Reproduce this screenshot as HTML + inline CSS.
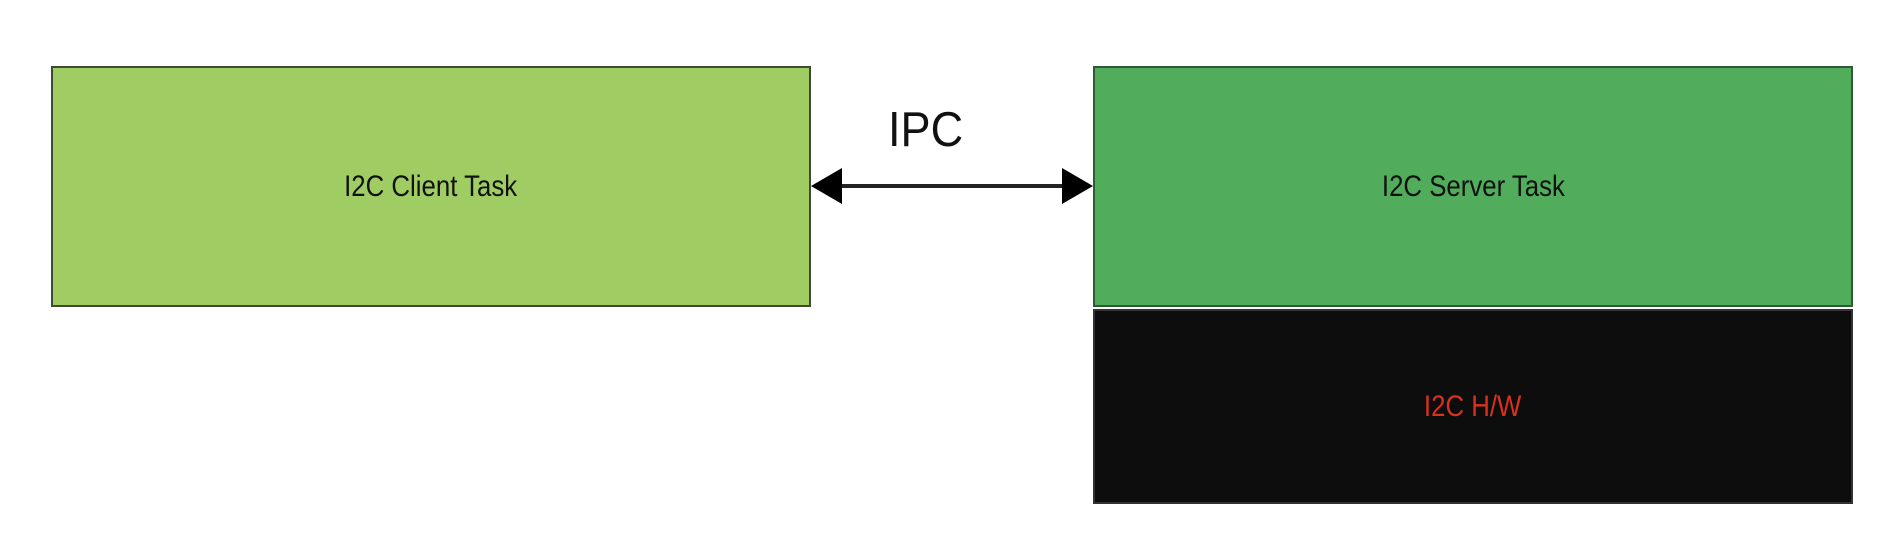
<!DOCTYPE html>
<html><head><style>
body{margin:0;width:1896px;height:540px;background:#fff;position:relative;overflow:hidden;font-family:"Liberation Sans",sans-serif}
.b{position:absolute;box-sizing:border-box;display:flex;align-items:center;justify-content:center;font-size:30px;color:#111}
.b span{display:inline-block;transform:scaleX(0.86)}
</style></head><body>
<div class="b" style="left:51px;top:66px;width:760px;height:241px;background:#a0cd63;border:2px solid #3f4a35"><span>I2C Client Task</span></div>
<div class="b" style="left:1093px;top:66px;width:760px;height:241px;background:#51ad5c;border:2px solid #2f5a35"><span>I2C Server Task</span></div>
<div class="b" style="left:1093px;top:309px;width:760px;height:195px;background:#0d0d0d;border:2px solid #333;color:#d9301f"><span>I2C H/W</span></div>
<div style="position:absolute;left:888px;top:102px;font-size:49px;color:#111;transform:scaleX(0.92);transform-origin:left">IPC</div>
<svg style="position:absolute;left:0;top:0" width="1896" height="540">
<line x1="830" y1="186" x2="1073" y2="186" stroke="#222" stroke-width="4"/>
<polygon points="811,186 842,168 842,204" fill="#000"/>
<polygon points="1093,186 1062,168 1062,204" fill="#000"/>
</svg>
</body></html>
